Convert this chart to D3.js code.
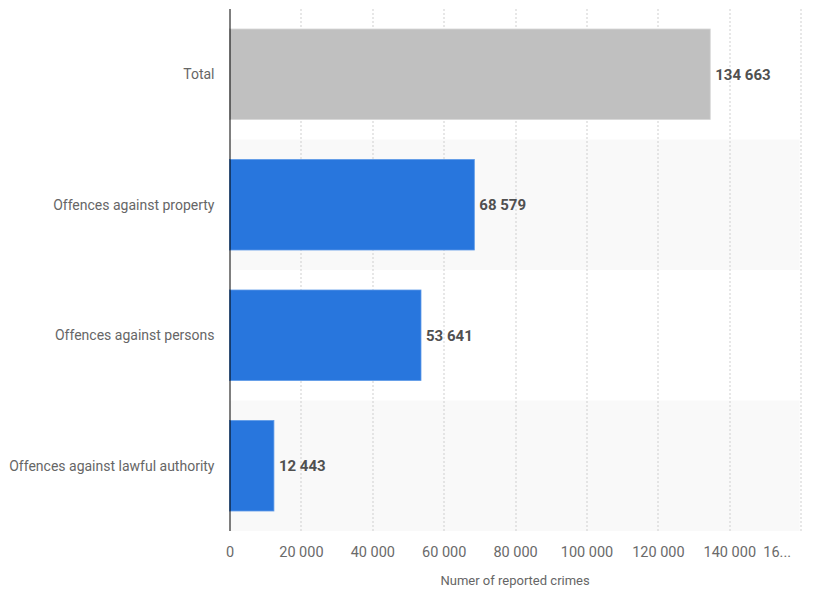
<!DOCTYPE html>
<html>
<head>
<meta charset="utf-8">
<script src="https://cdn.jsdelivr.net/npm/d3@7"></script>
<style>
  body { margin: 0; background: #fff; }
  svg { display: block; font-family: Roboto, "Noto Sans", sans-serif; }
</style>
</head>
<body>
<div id="chart"></div>
<script>
// Data
const categories = ["Total", "Offences against property", "Offences against persons", "Offences against lawful authority"];
const crimeCounts = [134663, 68579, 53641, 12443];
const tickValues = [0, 20000, 40000, 60000, 80000, 100000, 120000, 140000, 160000];
const axisTitle = "Numer of reported crimes";

const config = {
  width: 818,
  height: 590,
  margin: {top: 9, right: 17.3, bottom: 59, left: 229.5}
};

const data = categories.map((c, i) => ({category: c, value: crimeCounts[i]}));

const width = config.width - config.margin.left - config.margin.right;
const height = config.height - config.margin.top - config.margin.bottom;

const locale = d3.formatLocale({decimal: ".", thousands: " ", grouping: [3], currency: ["", ""]});
const fmt = locale.format(",d");

const svg = d3.select("#chart").append("svg")
  .attr("width", config.width)
  .attr("height", config.height);

const chart = svg.append("g")
  .attr("transform", `translate(${config.margin.left},${config.margin.top})`);

const xScale = d3.scaleLinear().domain([0, 160000]).range([0, width]);
const yScale = d3.scaleBand().domain(categories).range([0, height]).paddingInner(0).paddingOuter(0);
const barPad = 20;

// Alternating band backgrounds
chart.selectAll(".stripe")
  .data(categories.filter((d, i) => i % 2 === 1))
  .join("rect")
  .attr("class", "stripe")
  .attr("x", 0)
  .attr("y", d => yScale(d))
  .attr("width", width - 1)
  .attr("height", yScale.bandwidth())
  .attr("fill", "#f9f9f9");

// Vertical dotted gridlines
chart.selectAll(".grid")
  .data(tickValues.filter(d => d > 0))
  .join("line")
  .attr("class", "grid")
  .attr("x1", d => Math.round(xScale(d)) + 0.5)
  .attr("x2", d => Math.round(xScale(d)) + 0.5)
  .attr("y1", 0)
  .attr("y2", height)
  .attr("stroke", "#cfcfcf")
  .attr("stroke-width", 1)
  .attr("stroke-dasharray", "2,2");

// Bars
chart.selectAll(".bar")
  .data(data)
  .join("rect")
  .attr("class", "bar")
  .attr("x", 0)
  .attr("y", d => yScale(d.category) + barPad)
  .attr("width", d => xScale(d.value))
  .attr("height", yScale.bandwidth() - 2 * barPad)
  .attr("fill", (d, i) => i === 0 ? "#c0c0c0" : "#2876dd")
  .attr("stroke", (d, i) => i === 0 ? "#d6d6d6" : "#5d9ae8")
  .attr("stroke-width", 0.8);

// Value labels
chart.selectAll(".value-label")
  .data(data)
  .join("text")
  .attr("class", "value-label")
  .attr("x", d => xScale(d.value) + 5)
  .attr("y", d => yScale(d.category) + yScale.bandwidth() / 2)
  .attr("dy", "0.35em")
  .attr("font-size", 15)
  .attr("font-weight", "bold")
  .attr("fill", "#505050")
  .text(d => fmt(d.value));

// Category labels
chart.selectAll(".cat-label")
  .data(categories)
  .join("text")
  .attr("class", "cat-label")
  .attr("x", -15)
  .attr("y", d => yScale(d) + yScale.bandwidth() / 2)
  .attr("dy", "0.35em")
  .attr("text-anchor", "end")
  .attr("font-size", 14)
  .attr("fill", "#666")
  .text(d => d);

// X axis (labels only)
const xAxis = d3.axisBottom(xScale)
  .tickValues(tickValues)
  .tickSize(0)
  .tickPadding(0)
  .tickFormat(d => d === 160000 ? "16..." : fmt(d));

const xAxisG = chart.append("g")
  .attr("transform", `translate(0,${height + 16})`)
  .call(xAxis);
xAxisG.select(".domain").remove();
xAxisG.selectAll("text")
  .attr("font-size", 14.5)
  .attr("font-family", "Roboto, sans-serif")
  .attr("fill", "#6a6a6a")
  .attr("dx", d => d === 160000 ? -24 : 0);

// Left axis line
chart.append("line")
  .attr("x1", 0.5).attr("x2", 0.5)
  .attr("y1", 0).attr("y2", height)
  .attr("stroke", "#000")
  .attr("stroke-width", 1);

// Axis title
chart.append("text")
  .attr("x", width / 2)
  .attr("y", height + 54)
  .attr("text-anchor", "middle")
  .attr("font-size", 13)
  .attr("fill", "#666")
  .text(axisTitle);
</script>
</body>
</html>
